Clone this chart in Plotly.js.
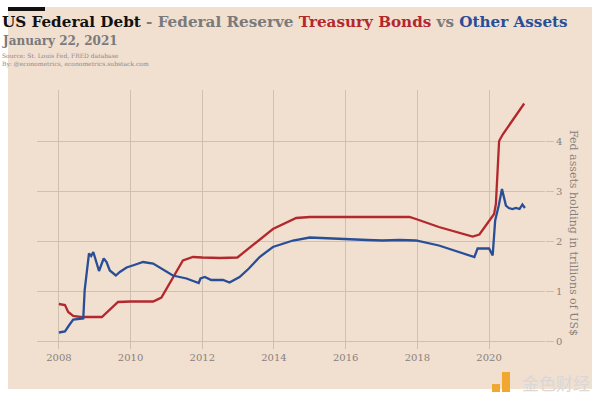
<!DOCTYPE html>
<html><head><meta charset="utf-8">
<script src="https://cdn.plot.ly/plotly-3.0.1.min.js"></script>
<style>
html,body{margin:0;padding:0;background:#fff;}
#bg{position:absolute;left:8px;top:7px;width:584px;height:382px;background:#f1dfd0;}
#bar{position:absolute;left:8px;top:7px;width:37px;height:4px;background:#111;}
#chart{position:absolute;left:0;top:0;width:600px;height:399px;}
</style></head>
<body>
<div id="bg"></div><div id="bar"></div>
<div id="chart"></div>
<script>
const treasuryYears = [2008.0,2008.17,2008.26,2008.4,2008.6,2009.2,2009.65,2010.0,2010.63,2010.86,2011.46,2011.74,2012.0,2012.5,2012.98,2013.97,2014.62,2015.0,2016.0,2017.0,2017.78,2017.96,2018.6,2019.54,2019.73,2019.91,2020.14,2020.19,2020.24,2020.28,2020.38,2020.98];
const treasuryValues = [0.74,0.72,0.58,0.50,0.48,0.48,0.78,0.79,0.79,0.87,1.61,1.68,1.67,1.66,1.67,2.24,2.46,2.48,2.48,2.48,2.48,2.44,2.28,2.09,2.13,2.31,2.54,2.74,3.54,4.00,4.13,4.75];
const otherYears = [2008.0,2008.17,2008.29,2008.4,2008.68,2008.72,2008.84,2008.9,2008.96,2009.05,2009.12,2009.25,2009.33,2009.42,2009.59,2009.7,2009.78,2009.89,2010.1,2010.35,2010.63,2011.0,2011.18,2011.56,2011.9,2011.95,2012.07,2012.25,2012.58,2012.76,2013.04,2013.3,2013.6,2013.97,2014.53,2015.0,2015.5,2016.1,2016.6,2017.03,2017.5,2017.96,2018.6,2019.59,2019.68,2019.87,2020.0,2020.1,2020.17,2020.27,2020.36,2020.47,2020.55,2020.65,2020.75,2020.85,2020.93,2021.0];
const otherValues = [0.17,0.19,0.32,0.43,0.45,1.02,1.75,1.70,1.78,1.55,1.40,1.65,1.58,1.41,1.31,1.38,1.42,1.47,1.52,1.58,1.55,1.40,1.31,1.25,1.16,1.25,1.28,1.22,1.22,1.17,1.28,1.45,1.68,1.88,2.01,2.07,2.05,2.04,2.02,2.01,2.02,2.01,1.91,1.68,1.85,1.85,1.85,1.71,2.41,2.71,3.04,2.71,2.66,2.64,2.66,2.64,2.73,2.66];
const xTicks = [2008,2010,2012,2014,2016,2018,2020];
const yTicks = [0,1,2,3,4];

const serif = 'DejaVu Serif, serif';
const gridC = '#cfc0b4';
const data = [
 {x: treasuryYears, y: treasuryValues, mode:'lines', line:{color:'#b3282d', width:2.3}, hoverinfo:'skip'},
 {x: otherYears, y: otherValues, mode:'lines', line:{color:'#284e97', width:2.3}, hoverinfo:'skip'}
];
const layout = {
 width:600, height:399,
 paper_bgcolor:'rgba(0,0,0,0)', plot_bgcolor:'rgba(0,0,0,0)',
 margin:{l:37, r:55, t:90, b:58},
 showlegend:false,
 xaxis:{range:[2007.39,2021.56], tickvals:xTicks, ticktext:xTicks.map(String), showgrid:true, gridcolor:gridC, gridwidth:1,
   ticks:'outside', ticklen:7, tickcolor:gridC, zeroline:false, showline:false,
   tickfont:{family:serif, size:10, color:'#8a7f7a'}},
 yaxis:{range:[0,5.02], side:'right', tickvals:yTicks, ticktext:yTicks.map(String), showgrid:true, gridcolor:gridC, gridwidth:1,
   ticks:'outside', ticklen:8, tickcolor:gridC, zeroline:true, zerolinecolor:gridC, zerolinewidth:1, showline:false,
   tickfont:{family:serif, size:10, color:'#8a7f7a'}},
 annotations:[
  {xref:'paper', yref:'paper', x:-37/508, y:1+ (90-22)/251, xanchor:'left', yanchor:'middle', showarrow:false,
   text:'<b><span style="color:#111">US Federal Debt</span> - Federal Reserve <span style="color:#b3282d">Treasury Bonds</span> vs <span style="color:#284e97">Other Assets</span></b>',
   font:{family:serif, size:15.2, color:'#7a7a7a'}},
  {xref:'paper', yref:'paper', x:-37/508, y:1+(90-41)/251, xanchor:'left', yanchor:'middle', showarrow:false,
   text:'<b>January 22, 2021</b>', font:{family:serif, size:12, color:'#7a7a7a'}},
  {xref:'paper', yref:'paper', x:-37/508, y:1+(90-55)/251, xanchor:'left', yanchor:'middle', showarrow:false,
   text:'Source: St. Louis Fed, FRED database', font:{family:serif, size:6, color:'#8a8a8a'}},
  {xref:'paper', yref:'paper', x:-37/508, y:1+(90-64)/251, xanchor:'left', yanchor:'middle', showarrow:false,
   text:'By: @econometrics, econometrics.substack.com', font:{family:serif, size:6, color:'#8a8a8a'}},
  {xref:'paper', yref:'paper', x:(573-37)/508, y:(341-233)/251, xanchor:'center', yanchor:'middle', showarrow:false, textangle:90,
   text:'Fed assets holding in trillions of US$', font:{family:serif, size:11, color:'#8a7f7a'}},
  {xref:'paper', yref:'paper', x:(556-37)/508, y:(341-382)/251, xanchor:'center', yanchor:'middle', showarrow:false,
   text:'金色财经', font:{family:'Noto Sans CJK SC', size:17, color:'#d8d8d8'}}
 ],
 shapes:[
  {type:'rect', xref:'paper', yref:'paper', x0:(492-37)/508, x1:(500-37)/508, y0:(341-392)/251, y1:(341-384)/251, fillcolor:'#f0a830', line:{width:0}},
  {type:'rect', xref:'paper', yref:'paper', x0:(502-37)/508, x1:(510-37)/508, y0:(341-392)/251, y1:(341-372)/251, fillcolor:'#f0a830', line:{width:0}}
 ]
};
Plotly.newPlot('chart', data, layout, {displayModeBar:false, staticPlot:true});
</script>
</body></html>
